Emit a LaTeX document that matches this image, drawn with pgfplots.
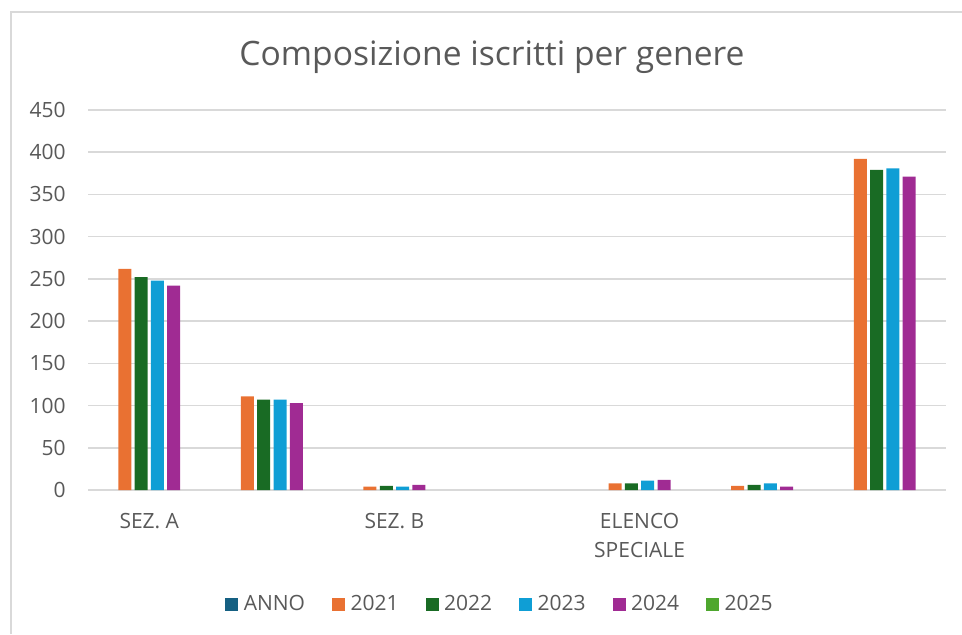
\documentclass[border=0pt]{standalone}
\usepackage{pgfplots}
\pgfplotsset{compat=1.18}
\usepackage{fontspec}
\setmainfont{Open Sans}
\definecolor{txt}{HTML}{595959}
\definecolor{gridc}{HTML}{D9D9D9}
\definecolor{cAnno}{HTML}{156082}
\definecolor{c21}{HTML}{E97132}
\definecolor{c22}{HTML}{196B24}
\definecolor{c23}{HTML}{0F9ED5}
\definecolor{c24}{HTML}{A02B93}
\definecolor{c25}{HTML}{4EA72E}
\begin{document}
\begin{tikzpicture}[x=1pt,y=1pt]
\path[use as bounding box] (0,0) rectangle (481,317);
\draw[gridc, line width=1pt] (5.5,0) -- (5.5,311) -- (481,311);
\node[anchor=base, text=txt, inner sep=0pt, font=\fontsize{16.8}{19}\selectfont] at (246,284.3) {Composizione iscritti per genere};
\begin{axis}[
  at={(44pt,72pt)}, anchor=south west,
  scale only axis, width=429pt, height=190pt,
  xmin=-0.5, xmax=6.5, ymin=0, ymax=450,
  ytick={0,50,...,450},
  xtick={0,2,4},
  xticklabels={SEZ. A, SEZ. B, {ELENCO\\SPECIALE}},
  axis line style={draw=none},
  major tick style={draw=none},
  ymajorgrids, major grid style={gridc, line width=0.75pt},
  tick label style={text=txt, font=\fontsize{10.5}{14.5}\selectfont},
  yticklabel style={anchor=east, inner sep=0pt, xshift=-11pt},
  xticklabel style={anchor=north, align=center, inner sep=0pt, yshift=-7pt},
  /pgf/number format/assume math mode=true,
  ybar, bar width=6.5pt,
  every axis plot/.append style={draw=none},
  legend image code/.code={\fill[#1] (0pt,-3.25pt) rectangle (6.5pt,3.25pt);},
  legend style={at={(0.479,-0.3)}, anchor=center, draw=none, fill=none,
    legend columns=-1, text=txt, font=\fontsize{10.5}{12}\selectfont,
    nodes={inner sep=0pt},
    /tikz/every odd column/.append style={column sep=2.75pt},
    /tikz/every even column/.append style={column sep=13.5pt}},
]
\addlegendimage{fill=cAnno, draw=none}
\addlegendentry{ANNO}
\addplot[fill=c21, bar shift=-12.225pt] coordinates {(0,262) (1,111) (2,4) (4,8) (5,5) (6,392)};
\addlegendentry{2021}
\addplot[fill=c22, bar shift=-4.075pt] coordinates {(0,252) (1,107) (2,5) (4,8) (5,6) (6,379)};
\addlegendentry{2022}
\addplot[fill=c23, bar shift=4.075pt] coordinates {(0,248) (1,107) (2,4) (4,11) (5,8) (6,381)};
\addlegendentry{2023}
\addplot[fill=c24, bar shift=12.225pt] coordinates {(0,242) (1,103) (2,6) (4,12) (5,4) (6,371)};
\addlegendentry{2024}
\addlegendimage{fill=c25, draw=none}
\addlegendentry{2025}
\end{axis}
\end{tikzpicture}
\end{document}
